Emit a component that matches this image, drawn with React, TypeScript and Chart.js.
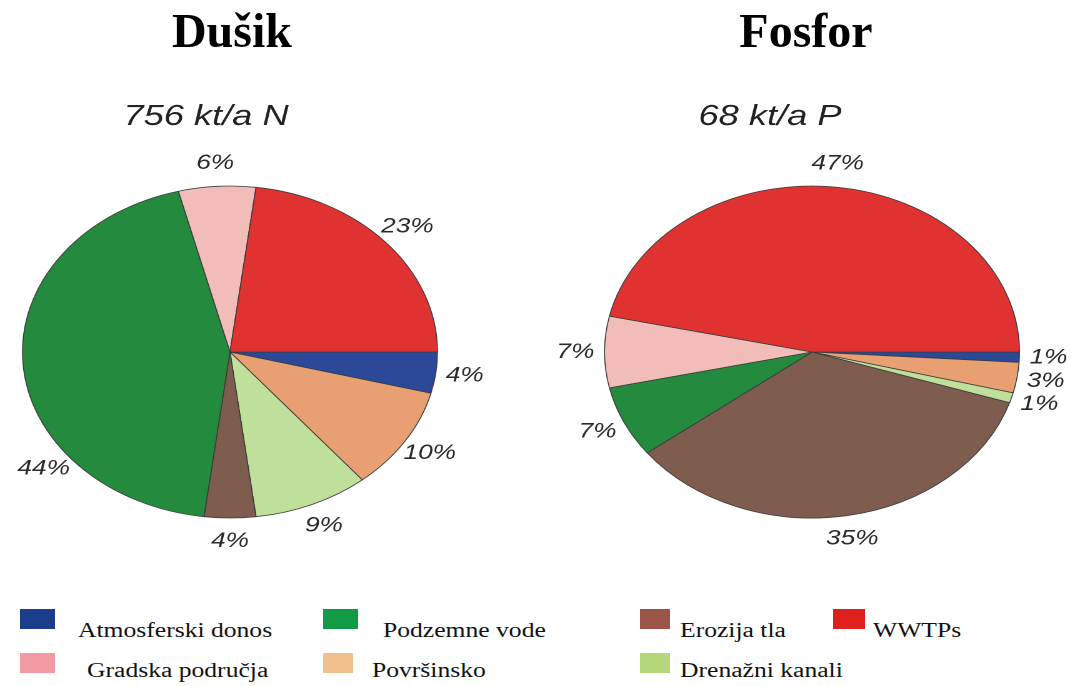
import React, { useEffect, useRef } from "react";
import { Chart, registerables } from "chart.js";

Chart.register(...registerables);

// Slice order (clockwise from 3 o'clock)
const categories = [
  "Atmosferski donos",
  "Površinsko",
  "Drenažni kanali",
  "Erozija tla",
  "Podzemne vode",
  "Gradska područja",
  "WWTPs",
];
const dusikValues = [4, 10, 9, 4, 44, 6, 23];
const fosforValues = [1, 3, 1, 35, 7, 7, 47];
const sliceColors = ["#2c4898", "#e8a072", "#bfe09a", "#7e5c4e", "#248a3e", "#f2bcb8", "#e03331"];

const dusikTitle = "Dušik";
const fosforTitle = "Fosfor";
const dusikSubtitle = "756 kt/a N";
const fosforSubtitle = "68 kt/a P";

const legendRow1 = ["Atmosferski donos", "Podzemne vode", "Erozija tla", "WWTPs"];
const legendRow2 = ["Gradska područja", "Površinsko", "Drenažni kanali"];
const legendColors: Record<string, string> = {
  "Atmosferski donos": "#1c3d8c",
  "Podzemne vode": "#139a46",
  "Erozija tla": "#9a5548",
  WWTPs: "#e0201c",
  "Gradska područja": "#f09aa2",
  "Površinsko": "#f2c08c",
  "Drenažni kanali": "#b5d67a",
};

const SX = 1.25;

const labelPlugin = {
  id: "sliceLabels",
  afterDatasetsDraw(chart: any, _args: any, opts: any) {
    const ctx = chart.ctx;
    const meta = chart.getDatasetMeta(0);
    const data = chart.data.datasets[0].data;
    ctx.save();
    ctx.font = 'italic 21px "Liberation Sans", Arial, sans-serif';
    ctx.fillStyle = "#2a2a2a";
    ctx.textAlign = "center";
    ctx.textBaseline = "middle";
    meta.data.forEach((arc: any, i: number) => {
      const p = arc.getProps(["x", "y", "startAngle", "endAngle", "outerRadius"], true);
      let a = (p.startAngle + p.endAngle) / 2;
      if (opts.angleOverrides && opts.angleOverrides[i] != null) a = (opts.angleOverrides[i] * Math.PI) / 180;
      const r = p.outerRadius * opts.offset;
      ctx.fillText(`${data[i]}%`, p.x + Math.cos(a) * r, p.y + Math.sin(a) * r);
    });
    ctx.font = 'italic 29px "Liberation Sans", Arial, sans-serif';
    ctx.fillStyle = "#222";
    ctx.textBaseline = "alphabetic";
    ctx.fillText(opts.subtitle, opts.subX, opts.subY);
    ctx.restore();
  },
};

function PieCanvas(props: {
  values: number[];
  width: number;
  height: number;
  padding: any;
  subtitle: string;
  subX: number;
  angleOverrides?: Record<number, number>;
}) {
  const ref = useRef<HTMLCanvasElement>(null);
  useEffect(() => {
    const chart = new Chart(ref.current!, {
      type: "pie",
      data: {
        labels: categories,
        datasets: [
          {
            data: props.values,
            backgroundColor: sliceColors,
            borderColor: "#3c3c3c",
            borderWidth: 0.8,
          },
        ],
      },
      options: {
        animation: false,
        responsive: false,
        devicePixelRatio: 2,
        rotation: 90,
        radius: 166,
        layout: { padding: props.padding },
        events: [],
        plugins: {
          legend: { display: false },
          tooltip: { enabled: false },
          sliceLabels: {
            offset: 1.14,
            subtitle: props.subtitle,
            subX: props.subX,
            subY: 125,
            angleOverrides: props.angleOverrides,
          },
        } as any,
      },
      plugins: [labelPlugin as any],
    });
    return () => chart.destroy();
  }, []);
  return (
    <canvas
      ref={ref}
      width={props.width}
      height={props.height}
      style={{ width: props.width + "px", height: props.height + "px", display: "block" }}
    />
  );
}

const titleStyle: React.CSSProperties = {
  position: "absolute",
  top: 7,
  width: 300,
  textAlign: "center",
  fontFamily: '"Liberation Serif", "Times New Roman", serif',
  fontWeight: "bold",
  fontSize: 48,
  lineHeight: "48px",
  color: "#000",
};

function LegendItem(props: { name: string; x: number; sqW: number; textX: number; sqY: number; baseY: number }) {
  return (
    <>
      <div
        style={{
          position: "absolute",
          left: props.x,
          top: props.sqY,
          width: props.sqW,
          height: 20,
          background: legendColors[props.name],
        }}
      />
      <div
        style={{
          position: "absolute",
          left: props.textX,
          top: props.baseY - 18,
          fontFamily: '"Liberation Serif", "Times New Roman", serif',
          fontSize: 20,
          lineHeight: "22px",
          whiteSpace: "nowrap",
          color: "#111",
          transform: "scaleX(1.28)",
          transformOrigin: "0 0",
        }}
      >
        {props.name}
      </div>
    </>
  );
}

export default function App() {
  const row1X = [
    { x: 20, w: 35, t: 78 },
    { x: 323, w: 35, t: 383 },
    { x: 640, w: 30, t: 680 },
    { x: 833, w: 32, t: 873 },
  ];
  const row2X = [
    { x: 20, w: 35, t: 87 },
    { x: 323, w: 30, t: 372 },
    { x: 640, w: 30, t: 680 },
  ];
  return (
    <div
      style={{
        position: "fixed",
        left: 0,
        top: 0,
        width: 1073,
        height: 686,
        background: "#fff",
        overflow: "hidden",
      }}
    >
      <div style={{ position: "absolute", left: 0, top: 0, transform: `scaleX(${SX})`, transformOrigin: "0 0" }}>
        <PieCanvas
          values={dusikValues}
          width={432}
          height={600}
          padding={{ left: 0, right: 64, top: 104, bottom: 0 }}
          subtitle={dusikSubtitle}
          subX={164.8}
          angleOverrides={{ 4: 142 }}
        />
      </div>
      <div style={{ position: "absolute", left: 540, top: 0, transform: `scaleX(${SX})`, transformOrigin: "0 0" }}>
        <PieCanvas
          values={fosforValues}
          width={426}
          height={600}
          padding={{ left: 9.2, right: 0, top: 104, bottom: 0 }}
          subtitle={fosforSubtitle}
          subX={184}
        />
      </div>
      <div style={{ ...titleStyle, left: 232 - 150 }}>{dusikTitle}</div>
      <div style={{ ...titleStyle, left: 806 - 150 }}>{fosforTitle}</div>
      {legendRow1.map((n, i) => (
        <LegendItem key={n} name={n} x={row1X[i].x} sqW={row1X[i].w} textX={row1X[i].t} sqY={609} baseY={637} />
      ))}
      {legendRow2.map((n, i) => (
        <LegendItem key={n} name={n} x={row2X[i].x} sqW={row2X[i].w} textX={row2X[i].t} sqY={653} baseY={677} />
      ))}
    </div>
  );
}
